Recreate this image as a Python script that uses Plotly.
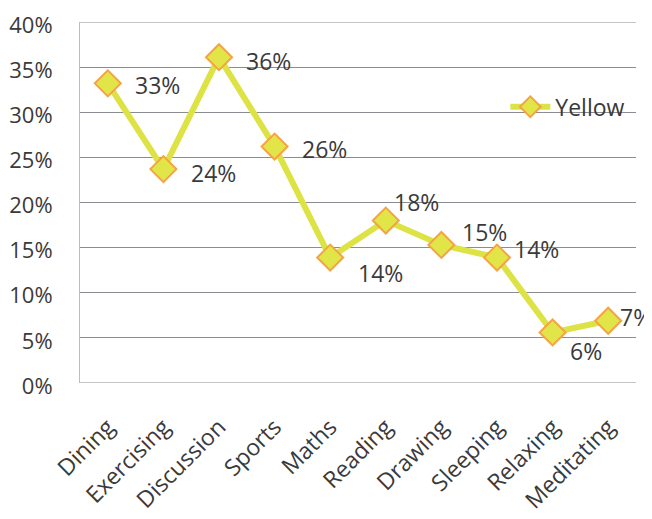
import plotly.graph_objects as go

categories = ["Dining", "Exercising", "Discussion", "Sports", "Maths",
              "Reading", "Drawing", "Sleeping", "Relaxing", "Meditating"]
values = [33.2, 23.7, 36.1, 26.2, 13.9, 18.0, 15.3, 13.9, 5.6, 6.9]
series_name = "Yellow"
y_ticks = [0, 5, 10, 15, 20, 25, 30, 35, 40]
y_tick_text = [f"{t}%" for t in y_ticks]

# label offsets (pixels) relative to each point
label_dx = [25, 26, 25, 25, 26, 6, 19, 15, 15, 10]
label_dy = [-2, -4, -4, -2, -15, 19, 13, 9, -19, 4]

FONT = "Open Sans"
TXT = "#3a3a3a"
GRID = "#8a8d94"

fig = go.Figure()
fig.add_trace(go.Scatter(
    x=categories, y=values, name=series_name, mode="lines+markers",
    line=dict(color="#dde345", width=6),
    marker=dict(symbol="diamond", size=20, color="#e2e548",
                line=dict(color="#f3a444", width=2)),
))

for c, v, dx, dy in zip(categories, values, label_dx, label_dy):
    fig.add_annotation(x=c, y=v, xref="x", yref="y", text=f"{round(v)}%",
                       showarrow=False, xanchor="left", yanchor="middle",
                       xshift=dx, yshift=dy,
                       font=dict(family=FONT, size=23, color=TXT))

# page body has an 8px margin, so the figure is 8px smaller and margins shifted
fig.update_layout(
    width=644, height=511,
    margin=dict(l=72, r=16, t=14, b=136, autoexpand=False),
    paper_bgcolor="white", plot_bgcolor="white",
    font=dict(family=FONT, size=23, color=TXT),
    showlegend=True,
    legend=dict(x=0.765, y=0.765, xanchor="left", yanchor="middle",
                bgcolor="rgba(0,0,0,0)", font=dict(size=23, color=TXT),
                itemwidth=40),
    xaxis=dict(type="category", range=[-0.5, 9.5], tickangle=-45,
               showgrid=False, showline=False, zeroline=False,
               ticks="", automargin=False, ticklabelstandoff=25,
               tickfont=dict(size=23, color=TXT)),
    yaxis=dict(range=[0, 40], tickvals=y_ticks, ticktext=y_tick_text,
               showgrid=True, gridcolor=GRID, gridwidth=1,
               zeroline=False, showline=True, linecolor="#bdbdbd",
               linewidth=1, ticks="", ticklabelstandoff=22, automargin=False,
               ticklabeloverflow="allow", ticklabelshift=3,
               tickfont=dict(size=22, color=TXT)),
)
fig.add_hline(y=0, line=dict(color=GRID, width=1))
fig.add_hline(y=40, line=dict(color=GRID, width=1))

fig.write_html("out.html")
